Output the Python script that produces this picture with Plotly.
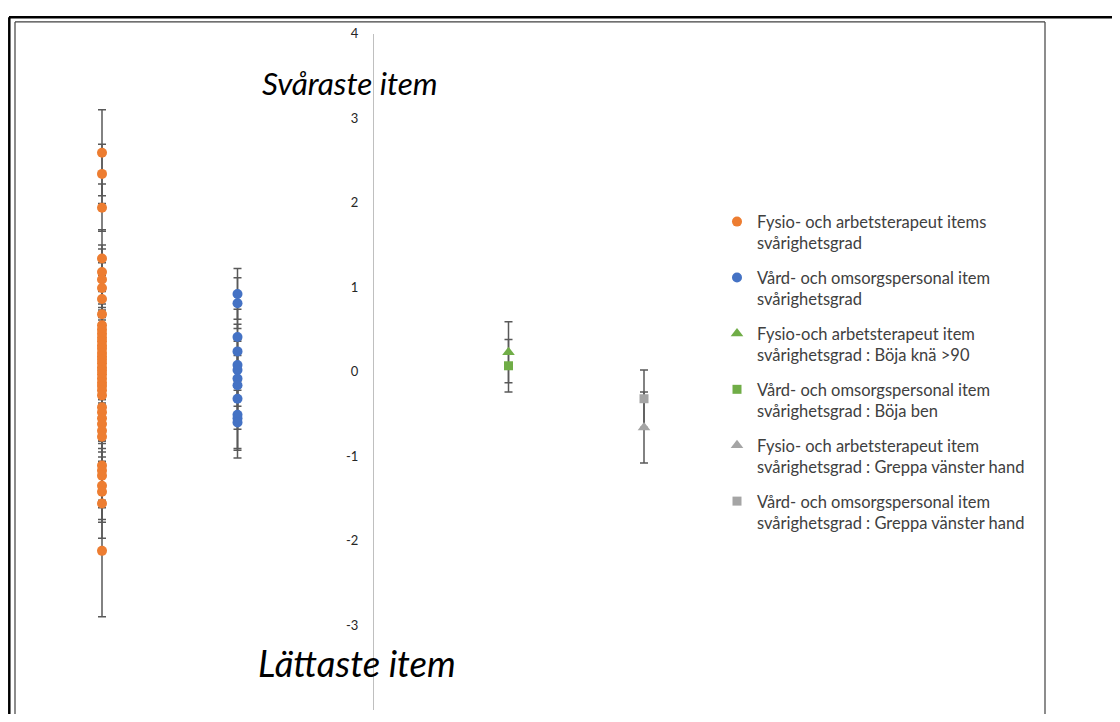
import plotly.graph_objects as go

# ---------------- data ----------------
orange_name = "Fysio- och arbetsterapeut items<br>svårighetsgrad"
orange_xpos = -2
orange_y = [2.59, 2.34, 1.94, 1.34, 1.18, 1.09, 0.99, 0.86, 0.68, 0.55,
            0.50, 0.45, 0.40, 0.36, 0.31, 0.27, 0.22, 0.18, 0.14, 0.10, 0.05, 0.01,
            -0.03, -0.08, -0.13, -0.17, -0.22, -0.28,
            -0.42, -0.48, -0.55, -0.62, -0.70, -0.77,
            -1.11, -1.17, -1.23, -1.35, -1.42, -1.56, -2.12]
orange_err = [0.51, 0.35, 0.28, 0.34, 0.32, 0.36, 0.30, 0.28, 0.27, 0.25,
              0.26, 0.25, 0.24, 0.25, 0.24, 0.26, 0.25, 0.24, 0.25, 0.26, 0.24, 0.25,
              0.26, 0.25, 0.24, 0.26, 0.27, 0.27,
              0.28, 0.30, 0.27, 0.29, 0.31, 0.30,
              0.33, 0.35, 0.38, 0.40, 0.36, 0.41, 0.78]

blue_name = "Vård- och omsorgspersonal item<br>svårighetsgrad"
blue_xpos = -1
blue_y = [0.92, 0.81, 0.41, 0.24, 0.08, 0.02, -0.08, -0.16, -0.32, -0.51, -0.55, -0.60]
blue_err = [0.30, 0.30, 0.33, 0.32, 0.30, 0.34, 0.33, 0.35, 0.36, 0.40, 0.38, 0.42]

green_tri_name = "Fysio-och arbetsterapeut item<br>svårighetsgrad : Böja knä >90"
green_sq_name = "Vård- och omsorgspersonal item<br>svårighetsgrad : Böja ben"
green_xpos = 1
green_tri_y = [0.23]
green_tri_err = [0.36]
green_sq_y = [0.07]
green_sq_err = [0.31]

gray_tri_name = "Fysio- och arbetsterapeut item<br>svårighetsgrad : Greppa vänster hand"
gray_sq_name = "Vård- och omsorgspersonal item<br>svårighetsgrad : Greppa vänster hand"
gray_xpos = 2
gray_tri_y = [-0.66]
gray_tri_err = [0.42]
gray_sq_y = [-0.32]
gray_sq_err = [0.34]

y_tickvals = [4, 3, 2, 1, 0, -1, -2, -3, -4]
y_ticktext = ["4", "3", "2", "1", "0", "-1", "-2", "-3", "-4"]

label_top = "Svåraste item"
label_bottom = "Lättaste item"

# ---------------- figure ----------------
OFF_X = 8                      # default body margin of the page
W, H = 1120 - 2 * OFF_X, 722 - 2 * OFF_X
# observed vertical placement of the photographed page: display_y ~ Y0 + SY * fig_y
Y0, SY = 15.5, 0.984
ERR_COLOR = "#595959"
FONT = "Lato"

def clamp(v):
    return min(1.0, max(0.0, v))

def px_x(d):
    return clamp((d - OFF_X) / W)

def px_y(d):
    return clamp(1 - ((d - Y0) / SY) / H)

series = [
    (orange_name, orange_xpos, orange_y, orange_err, "#ED7D31", "circle", 10, 1),
    (blue_name, blue_xpos, blue_y, blue_err, "#4472C4", "circle", 10, 2),
    (green_tri_name, green_xpos, green_tri_y, green_tri_err, "#70AD47", "triangle-up", 11, 3),
    (green_sq_name, green_xpos, green_sq_y, green_sq_err, "#70AD47", "square", 9, 4),
    (gray_tri_name, gray_xpos, gray_tri_y, gray_tri_err, "#A5A5A5", "triangle-up", 11, 5),
    (gray_sq_name, gray_xpos, gray_sq_y, gray_sq_err, "#A5A5A5", "square", 9, 6),
]

fig = go.Figure()

# error bars first (below all markers)
for name, xpos, ys, errs, color, symbol, size, rank in series:
    fig.add_trace(go.Scatter(
        x=[xpos] * len(ys), y=ys, mode="markers", showlegend=False, hoverinfo="skip",
        marker=dict(size=1, color="rgba(0,0,0,0)"),
        error_y=dict(type="data", array=errs, visible=True, color=ERR_COLOR,
                     thickness=1.5, width=4),
    ))

# markers
for name, xpos, ys, errs, color, symbol, size, rank in series:
    fig.add_trace(go.Scatter(
        x=[xpos] * len(ys), y=ys, mode="markers", name=name,
        legendgroup=name, legendrank=rank,
        marker=dict(color=color, symbol=symbol, size=size, line=dict(width=0)),
    ))

axis_fx, unit_x = 373.0 - OFF_X, 135.5

fig.update_xaxes(visible=False, range=[-axis_fx / unit_x, (W - axis_fx) / unit_x],
                 showgrid=False, zeroline=False)
fig.update_yaxes(range=[-4, 4], domain=[px_y(706.0), px_y(33.0)],
                 anchor="free", position=axis_fx / W,
                 showline=True, linecolor="#bfbfbf", linewidth=1,
                 showgrid=False, zeroline=False, ticks="",
                 tickvals=y_tickvals, ticktext=y_ticktext,
                 ticklabelstandoff=12,
                 tickfont=dict(family=FONT, size=13, color="#262626"))

fig.add_annotation(x=-0.173, y=3.41, xref="x", yref="y", text=label_top,
                   showarrow=False,
                   font=dict(family=FONT, size=31.5, color="#000000", style="italic"))
fig.add_annotation(x=-0.12, y=-3.45, xref="x", yref="y", text=label_bottom,
                   showarrow=False,
                   font=dict(family=FONT, size=36.5, color="#000000", style="italic"))

# outer border (thick black) and inner chart border, kept inside the figure
fig.add_shape(type="line", xref="paper", yref="paper",
              x0=px_x(9), x1=1, y0=1 - 1.3 / H, y1=1 - 1.3 / H,
              line=dict(color="#000000", width=2.5), layer="above")
fig.add_shape(type="line", xref="paper", yref="paper",
              x0=1.3 / W, x1=1.3 / W, y0=0, y1=1 - 1.3 / H,
              line=dict(color="#000000", width=2.5), layer="above")
fig.add_shape(type="line", xref="paper", yref="paper",
              x0=px_x(15), x1=px_x(1045), y0=1 - 6.0 / H, y1=1 - 6.0 / H,
              line=dict(color="#404040", width=1.2), layer="above")
fig.add_shape(type="line", xref="paper", yref="paper",
              x0=px_x(15), x1=px_x(15), y0=0, y1=1 - 6.0 / H,
              line=dict(color="#404040", width=1.2), layer="above")
fig.add_shape(type="line", xref="paper", yref="paper",
              x0=px_x(1045), x1=px_x(1045), y0=0, y1=1 - 6.0 / H,
              line=dict(color="#404040", width=1.2), layer="above")

fig.update_layout(
    width=W, height=H,
    margin=dict(l=0, r=0, t=0, b=0),
    paper_bgcolor="white", plot_bgcolor="white",
    font=dict(family=FONT, color="#404040"),
    showlegend=True,
    legend=dict(x=px_x(717), y=px_y(203), xanchor="left", yanchor="top",
                font=dict(family=FONT, size=16.5, color="#404040"),
                valign="top", tracegroupgap=10, itemwidth=30,
                traceorder="grouped",
                bgcolor="rgba(0,0,0,0)"),
)

fig.write_html("out.html")
